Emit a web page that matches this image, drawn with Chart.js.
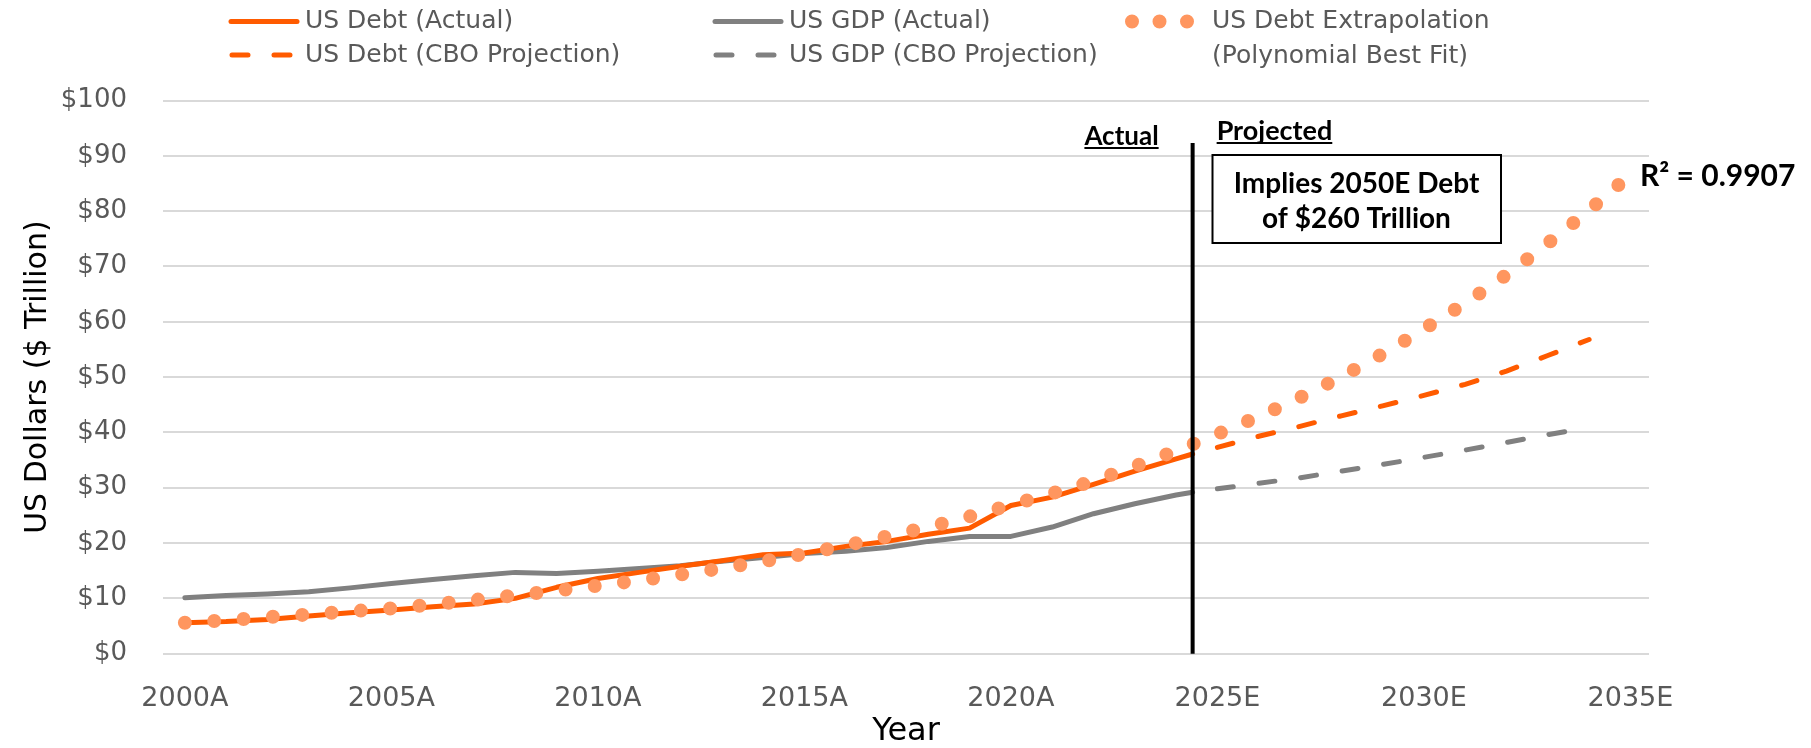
<!DOCTYPE html>
<html>
<head>
<meta charset="utf-8">
<script src="https://cdn.jsdelivr.net/npm/chart.js@4.4.1/dist/chart.umd.min.js"></script>
<style>
html,body{margin:0;padding:0;background:#fff;}
#wrap{width:1811px;height:748px;}
</style>
</head>
<body>
<div id="wrap"><canvas id="chart" width="1811" height="748"></canvas></div>
<script>
// values ($ trillion)
const actualYears=[2000,2001,2002,2003,2004,2005,2006,2007,2008,2009,2010,2011,2012,2013,2014,2015,2016,2017,2018,2019,2020,2021,2022,2023,2024,2024.4];
const debtActual=[5.6,5.8,6.2,6.8,7.4,7.9,8.5,9.0,10.0,12.0,13.6,14.7,15.8,16.8,17.9,18.2,19.4,20.3,21.6,22.7,26.8,28.3,30.6,33.0,35.2,36.1];
const gdpActual=[10.1,10.5,10.8,11.2,11.9,12.7,13.4,14.1,14.7,14.5,14.9,15.4,15.9,16.7,17.4,18.1,18.5,19.2,20.3,21.2,21.2,22.9,25.3,27.1,28.7,29.2];

const projYears=[2025,2026,2027,2028,2029,2030,2031,2032,2033,2034];
const debtCbo=[37.3,39.3,41.1,43.0,44.8,46.7,48.7,51.1,53.9,56.8];
const gdpCbo=[29.8,30.8,31.8,33.0,34.2,35.5,36.8,38.2,39.6,40.9];

const trendYears=[2000,2001,2002,2003,2004,2005,2006,2007,2008,2009,2010,2011,2012,2013,2014,2015,2016,2017,2018,2019,2020,2021,2022,2023,2024,2025,2026,2027,2028,2029,2030,2031,2032,2033,2034,2035];
const trendDebt=[5.6,6.05,6.6,7.1,7.65,8.2,8.9,9.7,10.55,11.4,12.3,13.25,14.3,15.45,16.7,18.05,19.6,21.2,22.9,24.8,26.9,29.0,31.25,33.9,36.7,39.7,42.9,46.3,50.1,54.2,58.7,63.4,68.5,74.2,80.2,86.6];

const tickYears=[2000,2005,2010,2015,2020,2025,2030,2035];
const tickLabels=['2000A','2005A','2010A','2015A','2020A','2025E','2030E','2035E'];

const splitYear=2024.4, splitTop=92.3;

const ORANGE='#FF5B00', GREY='#808080', PEACH='#FF965F';
const pts=(xs,ys)=>xs.map((x,i)=>({x, y:ys[i]}));

// legend, divider and text boxes
const overlay={
  id:'overlay',
  afterDatasetsDraw(chart){
    const {ctx, scales:{x, y}}=chart;
    const sx=x.getPixelForValue(splitYear);
    ctx.save();
    // divider
    ctx.strokeStyle='#000'; ctx.lineWidth=4;
    ctx.beginPath(); ctx.moveTo(sx, y.getPixelForValue(splitTop)); ctx.lineTo(sx, y.getPixelForValue(0)); ctx.stroke();

    // Actual / Projected headings
    ctx.fillStyle='#000'; ctx.textBaseline='alphabetic';
    ctx.font='bold 26px Lato'; ctx.textAlign='right';
    ctx.fillText('Actual', sx-34, 145);
    let w=ctx.measureText('Actual').width;
    ctx.fillRect(sx-34-w, 147, w, 2);
    ctx.font='bold 27px Lato'; ctx.textAlign='left';
    ctx.fillText('Projected', sx+24, 139.5);
    w=ctx.measureText('Projected').width;
    ctx.fillRect(sx+24, 142, w, 2);

    // box
    ctx.fillStyle='#fff'; ctx.fillRect(1212.5,155,288.5,88);
    ctx.strokeStyle='#000'; ctx.lineWidth=2; ctx.strokeRect(1212.5,155,288.5,88);
    ctx.fillStyle='#000'; ctx.textAlign='center'; ctx.font='bold 28px Lato';
    ctx.fillText('Implies 2050E Debt', 1356.5, 193);
    ctx.fillText('of $260 Trillion', 1356.5, 228);

    // R squared
    ctx.textAlign='left'; ctx.font='bold 30px Lato';
    ctx.fillText('R\u00B2 = 0.9907', 1640, 186);
    ctx.restore();
  },
  afterDraw(chart){
    const {ctx, data:{datasets}}=chart;
    const items=[
      {ds:datasets[1], x0:231, x1:297, y:21.5, tx:305, text:['US Debt (Actual)']},
      {ds:datasets[3], x0:232, x1:296, y:55, tx:305, text:['US Debt (CBO Projection)']},
      {ds:datasets[2], x0:715, x1:781, y:21.5, tx:789, text:['US GDP (Actual)']},
      {ds:datasets[4], x0:716, x1:780, y:55, tx:789, text:['US GDP (CBO Projection)']},
      {ds:datasets[0], x0:1132, x1:1188, y:21.5, tx:1212, text:['US Debt Extrapolation','(Polynomial Best Fit)'], dash:[0,27.5]}
    ];
    ctx.save();
    for(const it of items){
      ctx.strokeStyle=it.ds.borderColor; ctx.lineWidth=it.ds.borderWidth;
      ctx.lineCap='round';
      ctx.setLineDash(it.dash||it.ds.borderDash||[]);
      ctx.beginPath(); ctx.moveTo(it.x0,it.y); ctx.lineTo(it.x1,it.y); ctx.stroke();
      ctx.setLineDash([]);
      ctx.fillStyle='#595959'; ctx.font='25px "DejaVu Sans"'; ctx.textBaseline='middle'; ctx.textAlign='left';
      it.text.forEach((t,i)=>ctx.fillText(t, it.tx, it.y+i*35));
    }
    ctx.restore();
  }
};

new Chart(document.getElementById('chart'), {
  type:'line',
  data:{datasets:[
    {label:'US Debt Extrapolation (Polynomial Best Fit)', data:pts(trendYears,trendDebt), borderColor:PEACH, borderWidth:14, borderDash:[0,29.4], borderCapStyle:'round', cubicInterpolationMode:'monotone', pointRadius:0, order:0},
    {label:'US Debt (Actual)', data:pts(actualYears,debtActual), borderColor:ORANGE, borderWidth:5, borderJoinStyle:'round', borderCapStyle:'round', pointRadius:0, order:1},
    {label:'US GDP (Actual)', data:pts(actualYears,gdpActual), borderColor:GREY, borderWidth:5, borderJoinStyle:'round', borderCapStyle:'round', pointRadius:0, order:2},
    {label:'US Debt (CBO Projection)', data:pts(projYears,debtCbo), borderColor:ORANGE, borderWidth:5, borderDash:[16,26], borderCapStyle:'round', pointRadius:0, order:3},
    {label:'US GDP (CBO Projection)', data:pts(projYears,gdpCbo), borderColor:GREY, borderWidth:5, borderDash:[16,26], borderCapStyle:'round', pointRadius:0, order:4}
  ]},
  options:{
    responsive:false, devicePixelRatio:1, animation:false,
    layout:{padding:{top:100.5, right:162, left:0, bottom:0}},
    plugins:{legend:{display:false}, tooltip:{enabled:false}},
    scales:{
      x:{
        type:'linear', min:1999.47, max:2035.45,
        afterBuildTicks:s=>{ s.ticks=tickYears.map(v=>({value:v})); },
        afterFit:s=>{ s.height=94.3; },
        ticks:{callback:(v,i)=>tickLabels[i], color:'#595959', font:{family:'DejaVu Sans', size:27}, padding:29, maxRotation:0, autoSkip:false},
        grid:{display:false, drawTicks:false},
        border:{display:false},
        title:{display:true, text:'Year', color:'#000', font:{family:'DejaVu Sans', size:32, lineHeight:1}, padding:0}
      },
      y:{
        min:0, max:100,
        afterFit:s=>{ s.width=163; },
        ticks:{stepSize:10, callback:v=>'$'+v, color:'#595959', font:{family:'DejaVu Sans', size:26}, padding:36},
        grid:{color:'#D9D9D9', lineWidth:2, drawTicks:false},
        border:{display:false},
        title:{display:true, text:'US Dollars ($ Trillion)', color:'#000', font:{family:'DejaVu Sans', size:30, lineHeight:1}, padding:{top:23}}
      }
    }
  },
  plugins:[overlay]
});
</script>
</body>
</html>
